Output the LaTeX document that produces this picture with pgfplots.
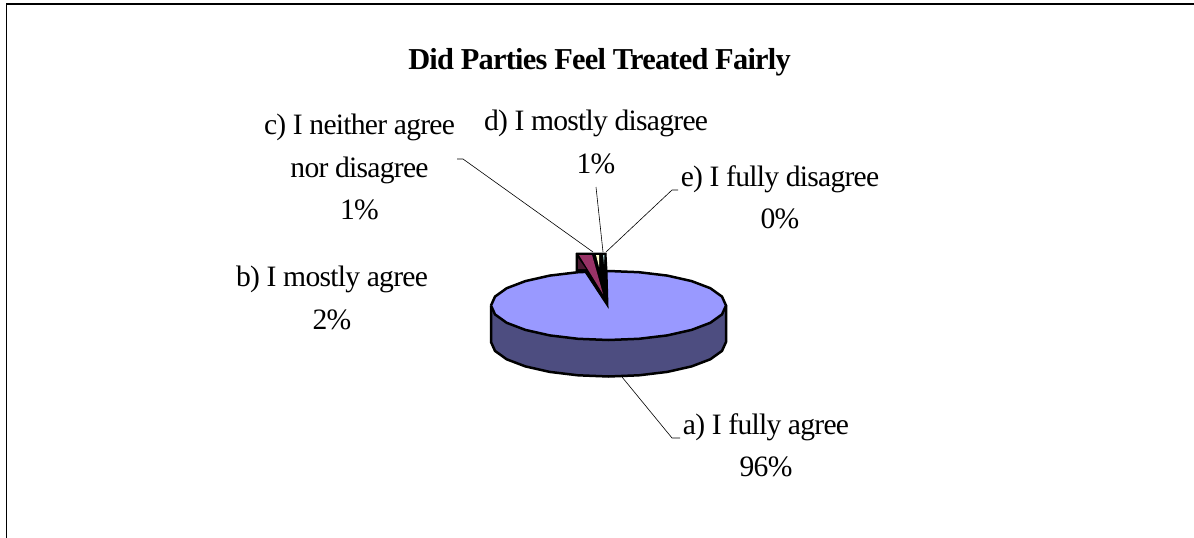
\documentclass[border=0pt]{standalone}
\usepackage{pgfplots}
\pgfplotsset{compat=1.18}
\usepackage{fontspec}
\setmainfont[LetterSpace=-2.5]{Liberation Serif}
\definecolor{topface}{HTML}{9999FF}
\definecolor{sideface}{HTML}{4D4D80}
\definecolor{bslice}{HTML}{993366}
\definecolor{bside}{HTML}{4D1A33}
\definecolor{cslice}{HTML}{FFFFCC}
\definecolor{dslice}{HTML}{CCFFFF}
\begin{document}
\begin{tikzpicture}[lab/.style={align=center,font=\fontsize{29.7}{42.5}\selectfont,inner sep=0pt}]
\useasboundingbox (0,0) rectangle (1194bp,538bp);
\begin{axis}[
    scale only axis,
    width=1194bp, height=538bp,
    xmin=0, xmax=1194, ymin=0, ymax=538,
    y dir=reverse,
    hide axis,
    clip=false
]
% chart frame
\addplot[black, line width=1.6bp] coordinates {(6.5,540) (6.5,4) (1196,4)};

% a) side wall of the pie
\addplot[fill=sideface, draw=black, line width=2.5bp, line join=round] coordinates {
    (491,305.5) (491,342) (495,350.9) (506.7,359.3) (525.4,366.4) (549.7,371.9) (578.1,375.3) (608.5,376.5)
    (638.9,375.3) (667.3,371.9) (691.6,366.4) (710.3,359.3) (722,350.9) (726,342) (726,305.5) (491,305.5)
};
% a) top face, 96%
\addplot[fill=topface, draw=black, line width=2.5bp, line join=round] coordinates {
    (491,305.5) (495,296.6) (506.7,288.2) (525.4,281.1) (549.7,275.6) (578.1,272.2) (608.5,271)
    (638.9,272.2) (667.3,275.6) (691.6,281.1) (710.3,288.2) (722,296.6) (726,305.5)
    (722,314.4) (710.3,322.8) (691.6,329.9) (667.3,335.4) (638.9,338.8) (608.5,340)
    (578.1,338.8) (549.7,335.4) (525.4,329.9) (506.7,322.8) (495,314.4) (491,305.5)
};
% small slices lifted above the face
\addplot[fill=black, draw=black, line width=1bp] coordinates {
    (576,253) (606,253) (607,271) (608,307) (585,272) (576,271) (576,253)
};
% b) 2%
\addplot[fill=bslice, draw=none] coordinates {(579,255) (592,255) (603,294) (579,255)};
\addplot[fill=bside, draw=none] coordinates {(578,258) (578,269) (586,269) (578,258)};
% c) 1%
\addplot[fill=cslice, draw=none] coordinates {(596,255) (599,255) (599,267) (596,255)};
% d) 1%
\addplot[fill=dslice!80!black, draw=none] coordinates {(603,255) (604.5,255) (604,264) (603,255)};

% leader lines
\addplot[black, line width=0.6bp] coordinates {(457,159) (463,159) (593,252)};
\addplot[black, line width=0.6bp] coordinates {(596,187) (603,252)};
\addplot[black, line width=0.6bp] coordinates {(678,190) (672,190) (606,252)};
\addplot[black, line width=0.6bp] coordinates {(622,377) (672,438) (680,438)};

\node[font=\fontsize{30.5}{33}\selectfont\bfseries, inner sep=0pt] at (axis cs:599.5,62) {Did Parties Feel Treated Fairly};
\node[lab] at (axis cs:359.5,167) {c) I neither agree\\nor disagree\\1\%};
\node[lab] at (axis cs:596,142) {d) I mostly disagree\\1\%};
\node[lab] at (axis cs:780,197) {e) I fully disagree\\0\%};
\node[lab] at (axis cs:332,298) {b) I mostly agree\\2\%};
\node[lab] at (axis cs:766,445) {a) I fully agree\\96\%};
\end{axis}
\end{tikzpicture}
\end{document}
